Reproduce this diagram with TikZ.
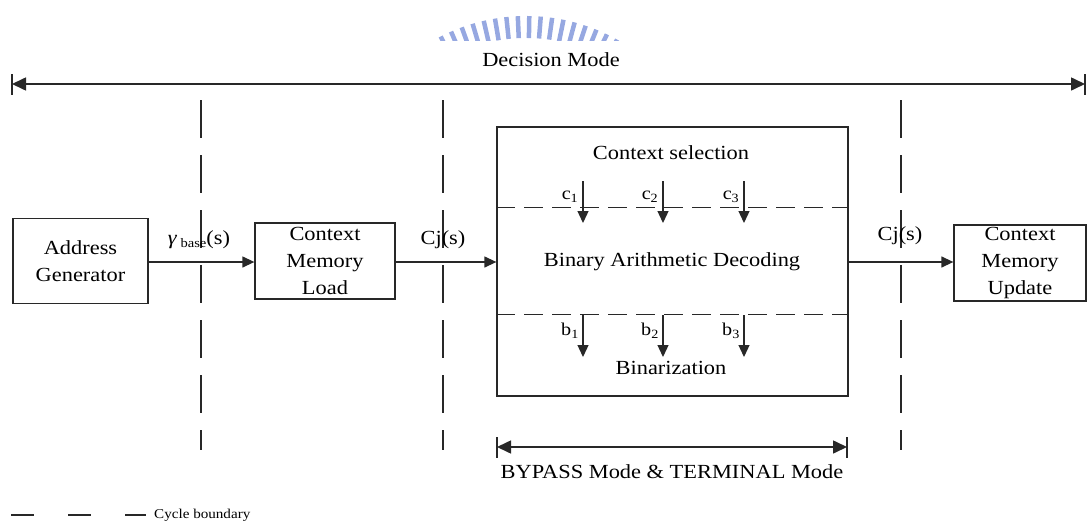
\documentclass[tikz,border=0pt]{standalone}
\usepackage{fontspec}
\setmainfont{Liberation Serif}[FakeStretch=1.12]
\usetikzlibrary{arrows.meta,calc}

\definecolor{ink}{RGB}{40,40,40}
\definecolor{logoblue}{RGB}{150,168,225}

\tikzset{
  blockbox/.style={draw=ink, line width=1.3pt, align=center, inner sep=2pt,
                   font=\fontsize{20}{27}\selectfont},
  flow/.style={draw=ink, line width=1.3pt, -{Triangle[length=12pt,width=11pt]}},
  span/.style={draw=ink, line width=1.6pt,
               {Triangle[length=14pt,width=13pt]}-{Triangle[length=14pt,width=13pt]}},
  endbar/.style={draw=ink, line width=1.3pt},
  cycleline/.style={draw=ink, line width=1.7pt, dash pattern=on 38pt off 17pt},
  stageline/.style={draw=ink, line width=1.3pt, dash pattern=on 19pt off 9pt},
  lbl/.style={font=\fontsize{20}{24}\selectfont, inner sep=1pt},
  sublbl/.style={font=\fontsize{18}{20}\selectfont, inner sep=1pt},
}

\begin{document}
\begin{tikzpicture}[x=1pt,y=-1pt]
\useasboundingbox (0,0) rectangle (1087,522);

% logo rays at the top
\begin{scope}
  \clip (425,14) rectangle (625,40);
  \foreach \a in {61,64.5,...,120}{
    \draw[logoblue, line width=4.5pt]
      ({526+166*cos(\a)},{204-166*sin(\a)}) -- ({526+188*cos(\a)},{204-188*sin(\a)});
  }
\end{scope}

% decision-mode span
\coordinate (dmL) at (12,84);
\coordinate (dmR) at (1085,84);
\draw[span] (dmL) -- (dmR);
\draw[endbar] ($(dmL)+(0,-10)$) -- ($(dmL)+(0,11)$);
\draw[endbar] ($(dmR)+(0,-10)$) -- ($(dmR)+(0,11)$);
\node[lbl] (dmtext) at (551,60) {Decision Mode};

% cycle boundaries
\foreach \n/\x in {cbA/201, cbB/443, cbC/901}{
  \coordinate (\n top) at (\x,100);
  \coordinate (\n bot) at (\x,450);
  \draw[cycleline] (\n top) -- (\n bot);
}

% pipeline blocks
\node[blockbox, minimum width=135pt, minimum height=85pt] (addr) at (80.5,261) {Address\\Generator};
\node[blockbox, minimum width=140pt, minimum height=76pt] (cml) at (325,261) {Context\\Memory\\Load};
\node[blockbox, minimum width=351pt, minimum height=269pt] (core) at (672.5,261.5) {};
\node[blockbox, minimum width=132pt, minimum height=76pt] (cmu) at (1020,263) {Context\\Memory\\Update};

% data flow
\draw[flow] (addr.east |- 0,262) -- (cml.west |- 0,262);
\draw[flow] (cml.east |- 0,262) -- (core.west |- 0,262);
\draw[flow] (core.east |- 0,262) -- (cmu.west |- 0,262);

\node[lbl] (gam) at (199,240) {\textit{γ}\,\raisebox{-3pt}{\fontsize{13}{13}\selectfont base}(s)};
\node[lbl] (cjA) at (443,240) {Cj(s)};
\node[lbl] (cjB) at (900,236) {Cj(s)};

% stages inside the decoder block
\node[lbl] (csel) at (671,153) {Context selection};
\node[lbl] (bad) at (672,262) {Binary Arithmetic Decoding};
\node[lbl] (bin) at (671,368) {Binarization};

\draw[stageline] ($(core.north west)+(0,81)$) -- ($(core.north east)+(0,81)$);
\draw[stageline] ($(core.north west)+(0,188)$) -- ($(core.north east)+(0,188)$);

\foreach \i/\x in {1/583, 2/663, 3/744}{
  \coordinate (c\i top) at (\x,181);
  \coordinate (c\i bot) at (\x,223);
  \draw[flow] (c\i top) -- (c\i bot);
  \node[sublbl] (clab\i) at (\x-13,197) {c\textsubscript{\i}};
  \coordinate (b\i top) at (\x,315);
  \coordinate (b\i bot) at (\x,357);
  \draw[flow] (b\i top) -- (b\i bot);
  \node[sublbl] (blab\i) at (\x-13,331) {b\textsubscript{\i}};
}

% bypass / terminal span
\coordinate (byL) at (497,447);
\coordinate (byR) at (847,447);
\draw[span] (byL) -- (byR);
\draw[endbar] ($(byL)+(0,-10)$) -- ($(byL)+(0,11)$);
\draw[endbar] ($(byR)+(0,-10)$) -- ($(byR)+(0,11)$);
\node[lbl] (bytext) at (672,472) {BYPASS Mode \& TERMINAL Mode};

% legend
\coordinate (lgA) at (11,515);
\coordinate (lgB) at (146,515);
\draw[draw=ink, line width=1.7pt, dash pattern=on 23pt off 34pt] (lgA) -- (lgB);
\node[anchor=west, inner sep=0pt, font=\fontsize{13.5}{14}\selectfont] (lgtext) at (154,515) {Cycle boundary};
\end{tikzpicture}
\end{document}
